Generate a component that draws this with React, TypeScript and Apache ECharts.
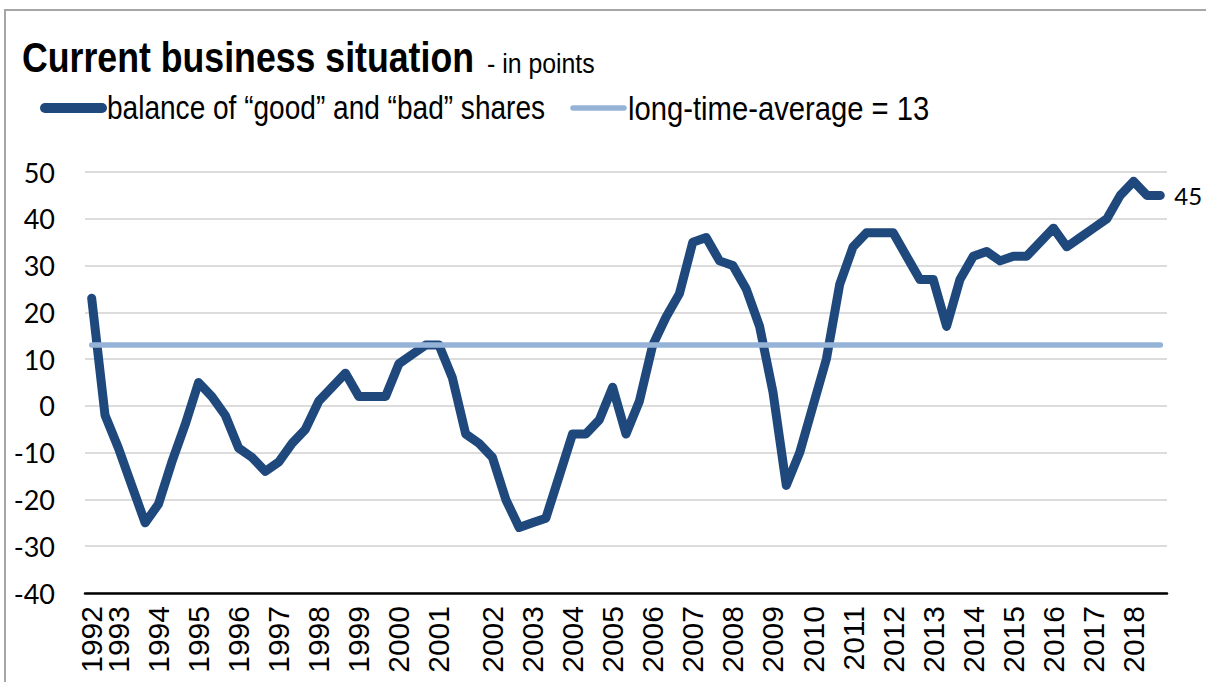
import React, { useEffect, useRef } from "react";
import * as echarts from "echarts";

// Survey years and number of surveys per year (label shown at first survey of each year)
const years = [
  1992, 1993, 1994, 1995, 1996, 1997, 1998, 1999, 2000, 2001, 2002, 2003, 2004, 2005,
  2006, 2007, 2008, 2009, 2010, 2011, 2012, 2013, 2014, 2015, 2016, 2017, 2018,
];
const surveysPerYear = [
  2, 3, 3, 3, 3, 3, 3, 3, 3, 4, 3, 3, 3, 3, 3, 3, 3, 3, 3, 3, 3, 3, 3, 3, 3, 3, 3,
];

// balance of "good" and "bad" shares, in points (one value per survey)
const balance = [
  23, -2, -9, -17, -25, -21, -12, -4, 5, 2, -2, -9, -11, -14, -12, -8, -5, 1, 4, 7,
  2, 2, 2, 9, 11, 13, 13, 6, -6, -8, -11, -20, -26, -25, -24, -15, -6, -6, -3, 4,
  -6, 1, 13, 19, 24, 35, 36, 31, 30, 25, 17, 3, -17, -10, 0, 10, 26, 34, 37, 37,
  37, 32, 27, 27, 17, 27, 32, 33, 31, 32, 32, 35, 38, 34, 36, 38, 40, 45, 48, 45,
  45,
];

const longTimeAverage = 13;

const yTicks = { min: -40, max: 50, interval: 10 };

const titleText = "Current business situation";
const subtitleText = "- in points";
const seriesName1 = "balance of \u201cgood\u201d and \u201cbad\u201d shares";
const seriesName2 = "long-time-average = 13";

const categories: string[] = [];
years.forEach((y, i) => {
  for (let k = 0; k < surveysPerYear[i]; k++) categories.push(k === 0 ? String(y) : "");
});

const DARK = "#1F497D";
const LIGHT = "#95B3D7";
const ARIAL = '"Liberation Sans", Arial, sans-serif';
const LATO = 'Lato, "Noto Sans", sans-serif';

const option: any = {
  animation: false,
  backgroundColor: "#ffffff",
  grid: { left: 85, right: 39, top: 172, bottom: 89, containLabel: false },
  xAxis: {
    type: "category",
    data: categories,
    boundaryGap: true,
    axisLine: { show: true, onZero: false, lineStyle: { color: "#000", width: 2.5 } },
    axisTick: { show: false },
    splitLine: { show: false },
    axisLabel: {
      interval: 0,
      rotate: 90,
      margin: 13,
      fontFamily: ARIAL,
      fontSize: 30,
      color: "#000",
    },
  },
  yAxis: {
    type: "value",
    min: yTicks.min,
    max: yTicks.max,
    interval: yTicks.interval,
    axisLine: { show: false },
    axisTick: { show: false },
    axisLabel: { margin: 30, fontFamily: LATO, fontSize: 27, color: "#000" },
    splitLine: { lineStyle: { color: "#D0D0D0", width: 1.5 } },
  },
  series: [
    {
      name: seriesName1,
      type: "line",
      data: balance,
      symbol: "none",
      lineStyle: { color: DARK, width: 9, cap: "round", join: "round" },
      itemStyle: { color: DARK },
      endLabel: {
        show: true,
        formatter: (p: any) => String(p.value),
        distance: 14,
        fontFamily: LATO,
        fontSize: 24,
        color: "#000",
      },
    },
    {
      name: seriesName2,
      type: "line",
      data: categories.map(() => longTimeAverage),
      symbol: "none",
      lineStyle: { color: LIGHT, width: 5.5, cap: "round" },
      itemStyle: { color: LIGHT },
    },
  ],
  graphic: [
    {
      type: "rect",
      silent: true,
      z: -10,
      shape: { x: 5, y: 10, width: 1300, height: 800 },
      style: { fill: "none", stroke: "#A6A6A6", lineWidth: 2 },
    },
    {
      type: "text",
      x: 22,
      y: 57,
      scaleX: 0.83,
      style: {
        text: titleText,
        fontFamily: ARIAL,
        fontWeight: "bold",
        fontSize: 43,
        fill: "#000",
        align: "left",
        verticalAlign: "middle",
      },
    },
    {
      type: "text",
      x: 487,
      y: 64,
      scaleX: 0.92,
      style: {
        text: subtitleText,
        fontFamily: ARIAL,
        fontSize: 27,
        fill: "#000",
        align: "left",
        verticalAlign: "middle",
      },
    },
    {
      type: "line",
      shape: { x1: 45, y1: 108, x2: 102, y2: 108 },
      style: { stroke: DARK, lineWidth: 10, lineCap: "round" },
    },
    {
      type: "text",
      x: 107,
      y: 108,
      scaleX: 0.825,
      style: {
        text: seriesName1,
        fontFamily: ARIAL,
        fontSize: 34,
        fill: "#000",
        align: "left",
        verticalAlign: "middle",
      },
    },
    {
      type: "line",
      shape: { x1: 573, y1: 108, x2: 624, y2: 108 },
      style: { stroke: LIGHT, lineWidth: 5.5, lineCap: "round" },
    },
    {
      type: "text",
      x: 628,
      y: 108,
      scaleX: 0.86,
      style: {
        text: seriesName2,
        fontFamily: ARIAL,
        fontSize: 34,
        fill: "#000",
        align: "left",
        verticalAlign: "middle",
      },
    },
  ],
};

export default function App() {
  const ref = useRef<HTMLDivElement>(null);
  useEffect(() => {
    const chart = echarts.init(ref.current as HTMLDivElement, null, { renderer: "svg" });
    chart.setOption(option);
    return () => chart.dispose();
  }, []);
  return (
    <div
      ref={ref}
      style={{ position: "absolute", left: 0, top: 0, width: 1206, height: 682, background: "#fff" }}
    />
  );
}
